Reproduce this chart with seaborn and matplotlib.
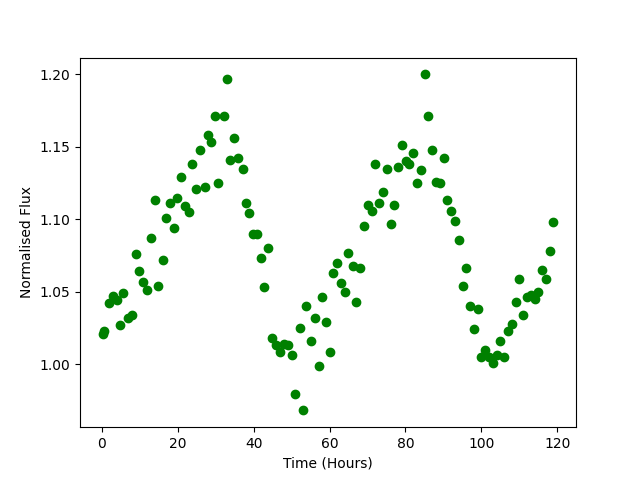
import numpy as np
import pandas as pd
import matplotlib
matplotlib.use("Agg")
import matplotlib.pyplot as plt
import seaborn as sns

hours = [0.2, 0.7, 1.8, 2.9, 4.0, 4.8, 5.7, 6.9, 7.9, 8.9,
         9.9, 10.8, 11.9, 12.9, 13.9, 14.8, 16.0, 16.9, 17.9, 19.0,
         19.8, 20.9, 21.9, 23.1, 23.8, 24.8, 25.9, 27.1, 27.9, 28.7,
         29.7, 30.6, 32.1, 33.0, 33.8, 34.9, 36.0, 37.1, 38.1, 38.9,
         39.9, 41.0, 42.0, 42.8, 43.9, 44.9, 45.9, 47.0, 48.0, 49.0,
         50.0, 51.0, 52.1, 52.9, 53.9, 55.0, 56.1, 57.1, 57.9, 59.0,
         60.0, 61.0, 61.9, 62.9, 64.0, 65.0, 66.1, 66.9, 68.0, 69.0,
         70.1, 71.2, 71.9, 73.0, 74.0, 75.1, 76.1, 76.9, 78.0, 79.1,
         80.2, 80.9, 82.0, 83.0, 84.1, 85.1, 86.0, 87.0, 88.0, 89.1,
         90.1, 91.0, 92.0, 93.0, 94.1, 95.2, 96.0, 97.0, 98.1, 99.2,
         99.9, 101.0, 102.1, 103.2, 104.2, 104.9, 106.0, 107.1, 108.1, 109.1,
         110.0, 111.0, 112.1, 113.1, 114.2, 115.0, 116.1, 117.1, 118.2, 119.0]

# normalised flux values
flux = [1.021, 1.023, 1.042, 1.047, 1.044, 1.027, 1.049, 1.032, 1.034, 1.076,
        1.064, 1.057, 1.051, 1.087, 1.113, 1.054, 1.072, 1.101, 1.111, 1.094,
        1.115, 1.129, 1.109, 1.105, 1.138, 1.121, 1.148, 1.122, 1.158, 1.153,
        1.171, 1.125, 1.171, 1.197, 1.141, 1.156, 1.142, 1.135, 1.111, 1.104,
        1.090, 1.090, 1.073, 1.053, 1.080, 1.018, 1.013, 1.008, 1.014, 1.013,
        1.006, 0.979, 1.025, 0.968, 1.040, 1.016, 1.032, 0.999, 1.046, 1.029,
        1.008, 1.063, 1.070, 1.056, 1.050, 1.077, 1.068, 1.043, 1.066, 1.095,
        1.110, 1.106, 1.138, 1.111, 1.119, 1.135, 1.097, 1.110, 1.136, 1.151,
        1.140, 1.138, 1.146, 1.125, 1.134, 1.200, 1.171, 1.148, 1.126, 1.125,
        1.142, 1.113, 1.106, 1.099, 1.086, 1.054, 1.066, 1.040, 1.024, 1.038,
        1.005, 1.010, 1.005, 1.001, 1.006, 1.016, 1.005, 1.023, 1.028, 1.043,
        1.059, 1.034, 1.046, 1.048, 1.045, 1.050, 1.065, 1.059, 1.078, 1.098]

df = pd.DataFrame({'time': hours, 'flux': flux})

fig, ax = plt.subplots(figsize=(6.4, 4.8), dpi=100)

sns.scatterplot(data=df, x='time', y='flux', ax=ax, color='green',
                s=36, edgecolor='green', linewidth=1)

ax.set_xlabel('Time (Hours)')
ax.set_ylabel('Normalised Flux')

plt.savefig('out.png', dpi=100)
